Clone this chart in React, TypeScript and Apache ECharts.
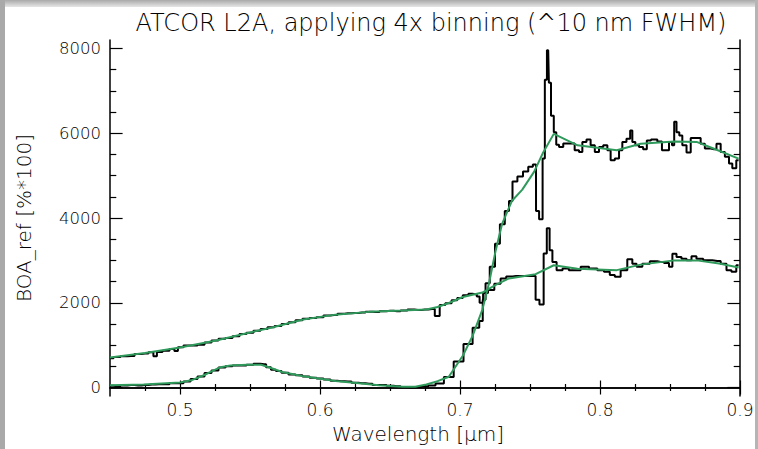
import React, { useEffect, useRef } from "react";
import * as echarts from "echarts";

// ---- data (wavelength in µm, BOA reflectance in %*100) ----
const soilRawWl = [
  0.45, 0.455, 0.46, 0.465, 0.47, 0.475, 0.48, 0.482, 0.485, 0.49, 0.495, 0.497, 0.5, 0.505, 0.51, 0.515,
  0.52, 0.525, 0.53, 0.535, 0.54, 0.545, 0.55, 0.555, 0.56, 0.565, 0.57, 0.575, 0.58, 0.585, 0.59, 0.595,
  0.6, 0.605, 0.61, 0.615, 0.62, 0.625, 0.63, 0.635, 0.64, 0.645, 0.65, 0.655, 0.66, 0.665, 0.67, 0.675,
  0.68, 0.684, 0.687, 0.692, 0.696, 0.7, 0.704, 0.708, 0.711, 0.713, 0.715, 0.718, 0.722, 0.727, 0.731,
  0.735, 0.74, 0.745, 0.75, 0.753, 0.755, 0.7585, 0.761, 0.763, 0.765, 0.767, 0.771, 0.7755, 0.78,
  0.7838, 0.7886, 0.7957, 0.8005, 0.8052, 0.8088, 0.8124, 0.8171, 0.8219, 0.8243, 0.8279, 0.8326,
  0.8386, 0.8433, 0.8481, 0.8505, 0.8529, 0.8564, 0.86, 0.8636, 0.8671, 0.8707, 0.8767, 0.8838, 0.8886,
  0.8921, 0.8957, 0.899,
];
const soilRaw = [
  690, 720, 740, 745, 790, 800, 830, 740, 840, 870, 910, 860, 950, 990, 990, 1010,
  1060, 1110, 1150, 1170, 1210, 1260, 1290, 1340, 1380, 1420, 1450, 1500, 1540, 1590, 1620, 1640,
  1660, 1700, 1710, 1740, 1750, 1760, 1770, 1790, 1780, 1800, 1810, 1800, 1820, 1840, 1830, 1840,
  1850, 1690, 1950, 1990, 2060, 2110, 2180, 2210, 2200, 2150, 2000, 2230, 2300, 2450, 2570,
  2620, 2630, 2630, 2630, 2630, 2070, 1960, 3160, 3760, 3240, 2960, 2770, 2810, 2770,
  2770, 2847, 2807, 2770, 2730, 2653, 2614, 2770, 3026, 2923, 2847, 2923,
  2979, 2963, 2940, 2847, 3156, 3079, 3040, 3002, 3095, 3040, 3002, 2986, 2923,
  2770, 2730, 2886,
];

const vegRawWl = [
  0.45, 0.455, 0.46, 0.465, 0.47, 0.475, 0.48, 0.485, 0.49, 0.495, 0.5, 0.505, 0.51, 0.515, 0.52, 0.525,
  0.53, 0.535, 0.54, 0.545, 0.55, 0.555, 0.56, 0.563, 0.567, 0.57, 0.575, 0.58, 0.585, 0.59, 0.595, 0.6,
  0.605, 0.61, 0.615, 0.62, 0.625, 0.63, 0.635, 0.64, 0.645, 0.65, 0.655, 0.66, 0.665, 0.67, 0.675, 0.68,
  0.685, 0.692, 0.699, 0.706, 0.712, 0.7155, 0.717, 0.7195, 0.723, 0.727, 0.73, 0.734, 0.736, 0.739,
  0.743, 0.747, 0.7505, 0.7536, 0.755, 0.758, 0.76, 0.7612, 0.763, 0.764, 0.766, 0.768, 0.7695, 0.772,
  0.7755, 0.78, 0.7838, 0.7862, 0.7886, 0.7921, 0.7945, 0.7981, 0.8005, 0.8041, 0.8064, 0.8088, 0.8124,
  0.8148, 0.8171, 0.8207, 0.8224, 0.8238, 0.8267, 0.829, 0.8326, 0.8343, 0.8386, 0.8433, 0.8452, 0.8481,
  0.8505, 0.8524, 0.8536, 0.8557, 0.8576, 0.86, 0.8636, 0.866, 0.8707, 0.8731, 0.8767, 0.8814, 0.885,
  0.8874, 0.891, 0.8933, 0.8957, 0.899,
];
const vegRaw = [
  40, 30, 50, 60, 50, 60, 70, 80, 80, 100, 100, 140, 200, 260, 340, 400,
  470, 500, 520, 520, 540, 560, 550, 480, 420, 390, 350, 310, 290, 260, 230, 210,
  190, 160, 150, 140, 110, 100, 90, 60, 60, 40, 30, 10, 0, 10, 30, 50,
  95, 250, 615, 1025, 1410, 1570, 2070, 2460, 2850, 3390, 3855, 4165, 4400, 4860,
  4980, 5095, 5210, 5265, 4165, 3970, 5405, 7265, 7960, 7190, 6410, 6025, 5730, 5675,
  5755, 5755, 5598, 5560, 5793, 5853, 5714, 5560, 5676, 5714, 5598, 5365, 5405,
  5598, 5793, 5870, 6063, 5793, 5714, 5676, 5621, 5830, 5853, 5807, 5598, 5598,
  5793, 5714, 6272, 6025, 5947, 5714, 5544, 5886, 5886, 5753, 5637, 5621, 5753,
  5560, 5444, 5288, 5172, 5365,
];

const soilFitWl = [
  0.45, 0.475, 0.5, 0.525, 0.55, 0.565, 0.588, 0.611, 0.635, 0.659, 0.676, 0.684, 0.692, 0.702, 0.716,
  0.7255, 0.735, 0.754, 0.767, 0.784, 0.812, 0.829, 0.853, 0.869, 0.885, 0.899,
];
const soilFit = [
  710, 815, 945, 1105, 1300, 1410, 1605, 1720, 1785, 1815, 1840, 1900, 1995, 2135, 2240,
  2420, 2575, 2675, 2885, 2805, 2770, 2900, 3000, 3000, 2925, 2830,
];

const vegFitWl = [
  0.45, 0.474, 0.5, 0.508, 0.517, 0.524, 0.529, 0.536, 0.548, 0.558, 0.565, 0.573, 0.587, 0.599, 0.611,
  0.626, 0.642, 0.659, 0.668, 0.676, 0.684, 0.692, 0.702, 0.709, 0.716, 0.7207, 0.7255, 0.73, 0.737,
  0.7445, 0.753, 0.759, 0.767, 0.784, 0.812, 0.829, 0.853, 0.869, 0.881, 0.899,
];
const vegFit = [
  55, 70, 120, 170, 290, 405, 480, 520, 537, 537, 460, 365, 272, 212, 156,
  109, 56, 16, 16, 72, 150, 255, 750, 1220, 1840, 2460, 3235, 3855, 4400,
  4670, 5095, 5520, 5985, 5715, 5600, 5750, 5805, 5795, 5640, 5400,
];

const xMajor = [0.5, 0.6, 0.7, 0.8, 0.9];
const xMinor = [0.475, 0.525, 0.55, 0.575, 0.625, 0.65, 0.675, 0.725, 0.75, 0.775, 0.825, 0.85, 0.875];
const yMajor = [0, 2000, 4000, 6000, 8000];
const yMinor = [500, 1000, 1500, 2500, 3000, 3500, 4500, 5000, 5500, 6500, 7000, 7500];

const TITLE = "ATCOR L2A, applying 4x binning (^10 nm FWHM)";
const FONT = "DejaVu Sans";
const WEIGHT = 200;
const GREEN = "#2f9a5c";

const pairs = (xs: number[], ys: number[]) => xs.map((x, i) => [x, ys[i]]);

export default function App() {
  const ref = useRef<HTMLDivElement>(null);
  useEffect(() => {
    document.body.style.margin = "0";
    const chart = echarts.init(ref.current!, null, { renderer: "svg" });
    const X0 = 0.45, X1 = 0.9, Y0 = -200, Y1 = 8200;
    const line = { show: true, lineStyle: { color: "#000", width: 1.5 } };
    const xAx = (pos: string, ticks: number[], len: number, labels: boolean, axisLine: boolean) => ({
      type: "value",
      position: pos,
      min: X0,
      max: X1,
      axisLine: axisLine ? line : { show: false },
      splitLine: { show: false },
      axisTick: { show: true, inside: true, length: len, customValues: ticks, lineStyle: { color: "#000", width: 1.2 } },
      axisLabel: labels
        ? { show: true, customValues: ticks, formatter: (v: number) => v.toFixed(1), color: "#000", fontFamily: FONT, fontWeight: WEIGHT, fontSize: 17, margin: 5 }
        : { show: false },
      ...(labels
        ? { name: "Wavelength [\u03bcm]", nameLocation: "middle", nameGap: 28, nameTextStyle: { color: "#000", fontFamily: FONT, fontWeight: WEIGHT, fontSize: 20, padding: [0, 14, 0, 0] } }
        : {}),
    });
    const yAx = (pos: string, ticks: number[], len: number, labels: boolean, axisLine: boolean) => ({
      type: "value",
      position: pos,
      min: Y0,
      max: Y1,
      axisLine: axisLine ? line : { show: false },
      splitLine: { show: false },
      axisTick: { show: true, inside: true, length: len, customValues: ticks, lineStyle: { color: "#000", width: 1.2 } },
      axisLabel: labels
        ? { show: true, customValues: ticks, formatter: (v: number) => String(v), color: "#000", fontFamily: FONT, fontWeight: WEIGHT, fontSize: 16.5, margin: 9 }
        : { show: false },
      ...(labels
        ? { name: "BOA_ref [%*100]", nameLocation: "middle", nameGap: 76, nameRotate: 90, nameTextStyle: { color: "#000", fontFamily: FONT, fontWeight: WEIGHT, fontSize: 20 } }
        : {}),
    });
    chart.setOption({
      animation: false,
      backgroundColor: "#fff",
      title: {
        text: TITLE,
        left: 426,
        textAlign: "center",
        top: 6,
        textStyle: { color: "#000", fontFamily: FONT, fontSize: 24, fontWeight: WEIGHT },
      },
      grid: { left: 110, right: 18, top: 40, bottom: 48, containLabel: false },
      xAxis: [
        xAx("bottom", xMajor, 7, true, true),
        xAx("bottom", xMinor, 3.5, false, false),
        xAx("top", xMajor, 7, false, true),
        xAx("top", xMinor, 3.5, false, false),
      ],
      yAxis: [
        yAx("left", yMajor, 12.6, true, true),
        yAx("left", yMinor, 6.3, false, false),
        yAx("right", yMajor, 12.6, false, true),
        yAx("right", yMinor, 6.3, false, false),
      ],
      series: [
        { type: "line", data: pairs(soilRawWl, soilRaw), step: "middle", showSymbol: false, lineStyle: { color: "#000", width: 2 }, clip: true },
        { type: "line", data: pairs(vegRawWl, vegRaw), step: "middle", showSymbol: false, lineStyle: { color: "#000", width: 2 }, clip: true },
        { type: "line", data: pairs(soilFitWl, soilFit), showSymbol: false, lineStyle: { color: GREEN, width: 2 }, clip: true },
        { type: "line", data: pairs(vegFitWl, vegFit), showSymbol: false, lineStyle: { color: GREEN, width: 2 }, clip: true },
      ],
      graphic: [
        {
          type: "rect",
          shape: { x: 0, y: 0, width: 758, height: 7 },
          style: {
            fill: new echarts.graphic.LinearGradient(0, 0, 0, 1, [
              { offset: 0, color: "#a9a9a9" },
              { offset: 1, color: "#e6e6e6" },
            ]),
          },
          silent: true,
        },
        { type: "rect", shape: { x: 0, y: 0, width: 5, height: 449 }, style: { fill: "#a9a9a9" }, silent: true },
        { type: "rect", shape: { x: 755, y: 0, width: 3, height: 449 }, style: { fill: "#b5b5b5" }, silent: true },
      ],
    });
    return () => chart.dispose();
  }, []);
  return <div ref={ref} style={{ width: 758, height: 449 }} />;
}
